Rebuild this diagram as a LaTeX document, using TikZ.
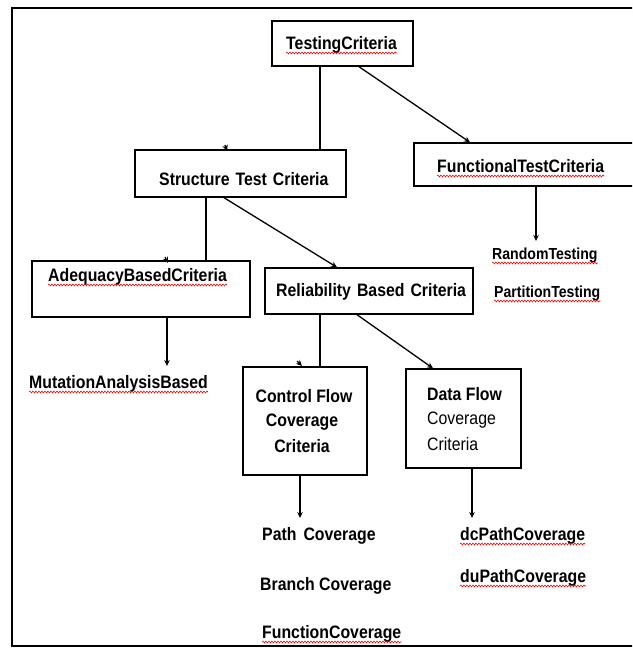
\documentclass[tikz,border=0pt]{standalone}
\usepackage{fontspec}
\setmainfont{Liberation Sans}[FakeStretch=0.88]
\usetikzlibrary{arrows.meta,decorations.pathmorphing}
\begin{document}
\begin{tikzpicture}[x=1pt,y=-1pt,
  box/.style={draw, line width=1.4pt, inner sep=0},
  lbl/.style={inner sep=0, anchor=base west, font=\fontsize{18}{25}\selectfont\bfseries},
  lblc/.style={lbl, anchor=base},
  small/.style={font=\fontsize{16}{22}\selectfont\bfseries},
  plain/.style={font=\fontsize{18}{25}\selectfont},
  conn/.style={line width=1.3pt},
  arr/.style={conn, -{Stealth[length=6pt,width=5.5pt]}},
  sq/.style={red, line width=0.6pt, decorate, decoration={snake, amplitude=0.9pt, segment length=3pt}}]
\useasboundingbox (0,0) rectangle (632,648);
\clip (0,0) rectangle (632,648);
\fill[white] (0,0) rectangle (632,648);
% frame
\draw[line width=2pt] (650,8) -- (11.5,8) -- (11.5,646) -- (650,646);
% boxes
\node[box, minimum width=141pt, minimum height=45pt] (tc)  at (342.5,43.5) {};
\node[box, minimum width=211pt, minimum height=47pt] (stc) at (240.5,173.5) {};
\node[box, minimum width=231pt, minimum height=43pt] (ftc) at (529.5,164.5) {};
\node[box, minimum width=218pt, minimum height=56pt] (abc) at (141,289) {};
\node[box, minimum width=208pt, minimum height=46pt] (rbc) at (369,291) {};
\node[box, minimum width=124pt, minimum height=108pt] (cfc) at (305,421) {};
\node[box, minimum width=115pt, minimum height=99pt] (dfc) at (463.5,418.5) {};
% labels
\node[lbl] (tcT)  at (286,49)  {TestingCriteria};
\node[lbl] (stcT) at (159,185) {Structure\hspace{6pt}Test\hspace{6pt}Criteria};
\node[lbl] (ftcT) at (437,172) {FunctionalTestCriteria};
\node[lbl] (abcT) at (48,281)  {AdequacyBasedCriteria};
\node[lbl] (rbcT) at (276,296) {Reliability\hspace{6pt}Based\hspace{6pt}Criteria};
\node[lbl,small] (rt) at (492,259) {RandomTesting};
\node[lbl,small] (pt) at (494,297) {PartitionTesting};
\node[lbl] (mab) at (29,388) {MutationAnalysisBased};
\node[lblc] (cf1) at (304,402) {Control Flow};
\node[lblc] (cf2) at (302,426) {Coverage};
\node[lblc] (cf3) at (302,452) {Criteria};
\node[lbl] (df1) at (427,400) {Data Flow};
\node[lbl,plain] (df2) at (427,424) {Coverage};
\node[lbl,plain] (df3) at (427,450) {Criteria};
\node[lbl] (pc) at (262,540) {Path\hspace{7pt}Coverage};
\node[lbl] (bc) at (260,590) {Branch Coverage};
\node[lbl] (fc) at (262,638) {FunctionCoverage};
\node[lbl] (dc) at (460,540) {dcPathCoverage};
\node[lbl] (du) at (460,582) {duPathCoverage};
% spell-check squiggles
\foreach \n in {tcT,ftcT,abcT,rt,pt,mab,fc,dc,du}
  \draw[sq] ([yshift=-4pt]\n.base west) -- ([yshift=-4pt]\n.base east);
% connectors
\draw[conn] (tc.south -| 320,0) -- (stc.north -| 320,0);
\draw[arr] (tc.south -| 359,0) -- (ftc.north -| 470,0);
\draw[arr] (ftc.south -| 536,0) -- (536,241);
\draw[conn] (stc.south -| 206,0) -- (abc.north -| 206,0);
\draw[arr] (stc.south -| 224,0) -- (rbc.north -| 337,0);
\draw[arr] (abc.south -| 167,0) -- (167,366);
\draw[conn] (rbc.south -| 320,0) -- (cfc.north -| 320,0);
\draw[arr] (rbc.south -| 357,0) -- (dfc.north -| 433,0);
\draw[arr] (cfc.south -| 300,0) -- (300,518);
\draw[arr] (dfc.south -| 472,0) -- (472,518);
% stray arrow tips
\draw[arr] (225,145) -- (227,151);
\draw[arr] (165,257) -- (168,263);
\draw[arr] (297,361) -- (302,366);
\end{tikzpicture}
\end{document}
